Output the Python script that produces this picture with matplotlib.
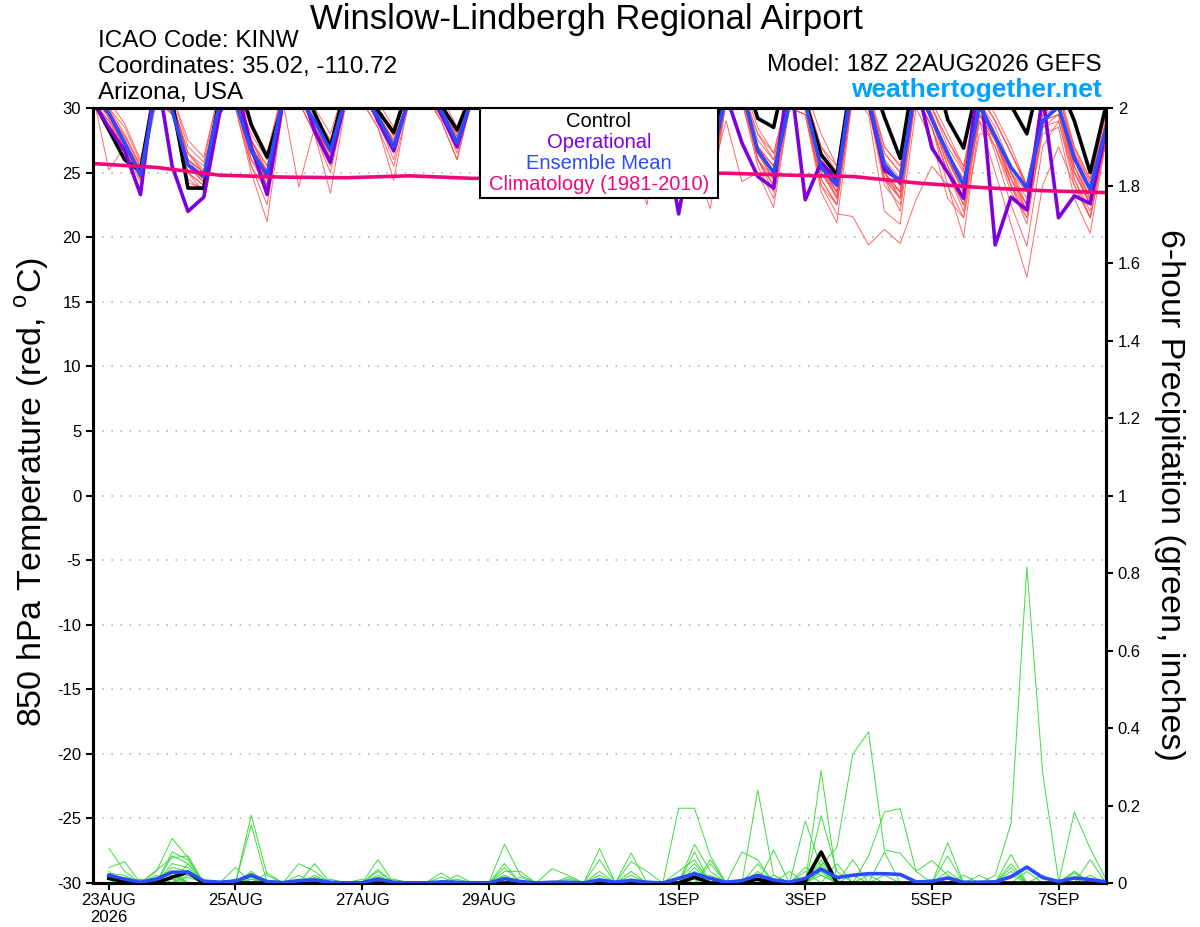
import numpy as np
import matplotlib.pyplot as plt
from matplotlib.patches import Rectangle

plt.rcParams['font.family'] = ['Liberation Sans', 'DejaVu Sans']
plt.rcParams['mathtext.fontset'] = 'custom'
plt.rcParams['mathtext.rm'] = 'Liberation Sans'
plt.rcParams['axes.unicode_minus'] = False

###################################################
# time axes: 6-hourly from 18Z 22AUG2026
start = np.datetime64('2026-08-22T18:00')
temp_times = start + np.arange(65) * np.timedelta64(6, 'h')
precip_times = temp_times[1:]
clim_times = start + np.arange(17) * np.timedelta64(24, 'h')

tick_dates = np.array(['2026-08-23', '2026-08-25', '2026-08-27', '2026-08-29',
                       '2026-09-01', '2026-09-03', '2026-09-05', '2026-09-07'],
                      dtype='datetime64[h]')
tick_labels = ['23AUG\n2026', '25AUG', '27AUG', '29AUG', '1SEP', '3SEP', '5SEP', '7SEP']

###################################################
# 850 hPa temperature (C)
control = [30.6,
           28.3, 26.0, 25.1, 32.2,  30.5, 23.8, 23.8, 30.9,  33.0, 28.7, 26.2, 30.3,
           33.0, 29.6, 27.0, 31.8,  33.0, 29.8, 28.1, 32.0,  33.0, 30.2, 28.3, 31.3,
           33.0, 29.5, 27.2, 32.0,  33.0, 29.8, 27.5, 32.0,  33.0, 29.2, 27.0, 32.0,
           33.0, 29.5, 27.2, 32.0,  33.0, 29.2, 28.5, 34.0,  30.5, 26.4, 24.8, 33.0,
           33.0, 29.3, 26.1, 33.5,  33.9, 29.1, 26.9, 32.4,  33.0, 30.2, 28.0, 33.3,
           32.0, 29.0, 25.0, 30.2]
operational = [30.5,
               28.5, 26.7, 23.3, 33.0,  25.5, 22.0, 23.1, 29.6,  32.0, 27.0, 23.3, 30.5,
               32.0, 28.2, 25.8, 31.0,  32.0, 29.0, 26.7, 31.0,  32.0, 29.5, 27.0, 31.0,
               32.0, 29.0, 26.0, 31.0,  32.0, 29.0, 26.0, 31.0,  32.0, 29.0, 25.5, 29.0,
               21.8, 28.5, 26.0, 31.0,  27.3, 24.7, 23.8, 33.0,  22.9, 25.8, 24.4, 32.0,
               30.5, 25.2, 24.4, 32.0,  26.9, 25.0, 23.0, 33.0,  19.4, 23.1, 22.1, 31.0,
               21.5, 23.2, 22.6, 28.3]
ens_mean = [30.8,
            29.6, 27.3, 24.8, 31.5,  29.8, 25.6, 24.7, 30.4,  30.5, 26.7, 24.8, 30.8,
            30.8, 29.0, 26.7, 31.0,  31.0, 29.3, 27.0, 30.8,  31.0, 29.8, 27.3, 31.0,
            31.0, 29.0, 26.5, 31.0,  31.0, 29.0, 26.5, 31.0,  31.0, 28.8, 26.0, 31.0,
            30.5, 28.0, 25.5, 31.0,  31.5, 26.7, 25.0, 30.3,  30.4, 25.4, 24.0, 32.5,
            30.6, 25.6, 24.2, 32.0,  29.1, 26.5, 24.0, 30.2,  27.8, 25.4, 23.8, 29.0,
            30.1, 26.1, 23.7, 28.4]
climatology = [25.7, 25.4, 24.8, 24.65, 24.6, 24.75, 24.55, 24.6, 24.7,
               24.9, 24.95, 24.8, 24.7, 24.2, 23.85, 23.6, 23.45]

temp_members = [
    [31, 29.8, 27.8, 25.5, 31.5, 30.5, 26.5, 25.2, 31, 31, 27.5, 25.5, 31, 31.5, 29.3, 27.2, 31.5,
     31.5, 29.8, 27.8, 31.5, 31.5, 30.2, 27.8, 31.5, 31.5, 29.5, 27.2, 31.5, 31.5, 29.5, 27, 31.5,
     31.5, 29, 26.5, 31.5, 31, 28.5, 26.5, 31.5, 31.5, 27.5, 26, 31, 31, 26.5, 25, 32,
     31, 26.5, 25, 32, 30, 27.5, 25.2, 31, 29, 26.5, 24, 30, 31, 26.5, 24.2, 29],
    [31, 29.2, 26.8, 24.5, 31, 30, 25, 24, 30.5, 30.5, 26, 23.8, 30.5, 31, 28.5, 26, 31,
     31, 29, 26.8, 31, 31.5, 29.5, 27, 31, 31, 28.5, 26, 31, 31, 28.5, 26, 31,
     31, 28, 25.5, 31, 30, 27, 25, 31, 31, 26, 24.5, 30.5, 30, 25, 23.5, 32,
     30.5, 25, 23.5, 31.5, 29, 26, 23.5, 30, 27.5, 25, 22.5, 29, 30, 25.5, 23, 28],
    [31.5, 30.5, 28.8, 26, 32, 31, 27.5, 26.2, 31.5, 31.5, 28.8, 26.5, 31.5, 32, 30, 28, 32,
     32, 30.5, 28.5, 32, 32, 31, 28.5, 32, 32, 30, 28, 32, 32, 30, 28, 32,
     31.5, 29.5, 27.5, 32, 31.5, 29, 27, 32, 32, 28.5, 26.5, 31.5, 31.5, 28, 25.5, 33,
     31.5, 27, 25.5, 33, 30.5, 28, 25.5, 31.5, 29.5, 27, 24, 30.5, 31.5, 27, 24.5, 29.5],
    [31, 25.2, 27, 25, 31, 30, 26, 24.5, 31, 31, 27, 24, 31, 31, 29, 26.5, 31,
     31, 29.5, 27, 31, 31, 29.5, 27.5, 31, 31, 29, 26.5, 31, 31, 29.5, 27, 31,
     31, 28.5, 26, 31, 30.5, 27.5, 25, 31, 31, 27, 25.5, 30.5, 30, 25.5, 24.5, 32,
     30.5, 26, 24, 32, 29.5, 26.5, 24.5, 30.5, 28, 25.5, 23.8, 29.5, 30, 26, 23.5, 28.5],
    [30.5, 29, 27, 24.8, 31, 29.5, 24.5, 23.6, 30, 30, 25, 21.2, 30, 30.5, 28, 25.5, 30.5,
     31, 29, 26, 31, 31, 29.5, 26.5, 31, 31, 28.5, 25.5, 31, 31, 28.5, 25.5, 31,
     31, 28, 25, 31, 30, 27, 24.5, 30.5, 31, 26.5, 24.5, 30.5, 30, 25.5, 23, 32,
     30.5, 25, 23.5, 32, 29.5, 26, 23.5, 30.5, 28, 25, 23, 29, 29.5, 26, 23, 28.5],
    [31, 29.5, 27.5, 25, 31.5, 30.5, 26, 25, 31, 31, 27, 25, 30.5, 23.9, 28.5, 26.5, 31,
     31, 29.5, 27, 31, 31, 30, 27.5, 31, 31, 29, 26.5, 31, 31, 29, 26.5, 31,
     31, 28.5, 26, 31, 30.5, 27.5, 25.5, 31, 31, 27, 25.5, 30.5, 30.5, 25.5, 24, 32,
     30.5, 25.5, 24, 32, 29, 26, 24, 30.5, 28, 25, 23.5, 29, 30, 26, 23.5, 28.5],
    [31, 29.5, 27, 24.5, 31, 30, 25.5, 24.5, 30.5, 30.5, 26, 24.5, 30.5, 30.5, 28, 23.4, 30.5,
     30.5, 28.5, 24.4, 31, 31, 29, 26, 31, 31, 28.5, 25.5, 31, 31, 28, 25, 31,
     31, 27.5, 24.5, 31, 30, 26.5, 24, 30.5, 30.5, 26, 24, 30.5, 30, 25, 23, 32,
     30, 24.5, 23, 31.5, 29, 25.5, 23, 30, 27.5, 24.5, 22.5, 29, 29.5, 25, 22.8, 28],
    [31.5, 30, 28.5, 25.8, 31.5, 31, 27, 25.8, 31.5, 31.5, 28.5, 26, 31.5, 31.5, 29.5, 27.5, 31.5,
     31.5, 30, 28, 31.5, 31.5, 30.5, 28.2, 31.5, 31.5, 29.5, 27.5, 31.5, 31.5, 29.5, 27.5, 31.5,
     31.5, 29, 27, 31.5, 31, 28.5, 26.5, 31.5, 31.5, 28, 26, 31, 31, 27, 25, 32.5,
     31, 26.5, 25, 32.5, 30, 27, 25, 31, 29, 26.5, 23.8, 30, 31, 26.8, 24.2, 29],
    [31, 29.5, 27.5, 25.2, 31, 30.5, 26, 25, 31, 31, 27, 25.2, 31, 31, 29, 27, 31,
     31, 29.5, 27.3, 31, 31, 29.8, 27.5, 31, 31, 29, 26.5, 31, 31, 28, 25.5, 31,
     30.5, 26.5, 22.5, 29.5, 27, 25.5, 22.2, 30.5, 31, 27, 25.5, 30.5, 30, 26, 24.5, 31.5,
     30.5, 26, 24.5, 31.5, 29.5, 26.5, 24.5, 30.5, 28, 25.5, 23.5, 29, 30, 26, 23.8, 28.5],
    [31, 29.5, 27, 24.8, 31, 30, 25.5, 24.3, 30.5, 30.5, 26.5, 24.5, 30.5, 31, 28.5, 26.5, 31,
     31, 29, 27, 31, 31, 29.5, 27, 31, 31, 29, 26.5, 31, 31, 28.5, 26, 31,
     31, 28, 25.5, 31, 30, 27, 24.5, 29, 24.3, 25, 22.3, 30, 30, 25.5, 23.5, 31.5,
     30, 25, 23, 31.5, 29, 26, 23.5, 30, 28, 24.5, 22.5, 29, 30, 25, 22.5, 28],
    [31, 29.5, 27.3, 24.6, 31, 30, 25, 24, 30.5, 30.5, 26.5, 24, 30.5, 31, 28.5, 26, 31,
     31, 29, 26.5, 31, 31, 29.5, 26.8, 31, 31, 28.5, 26, 31, 31, 28.5, 26, 31,
     31, 28, 25.5, 31, 30.5, 27, 25, 30.5, 31, 26, 23.5, 30, 29.5, 23.5, 21.1, 31,
     30.5, 24.5, 23, 31, 28.5, 24, 20, 29, 27, 24, 22, 29, 30, 25, 22.5, 28],
    [31, 29.5, 27.5, 25, 31, 30, 25.5, 24.5, 30.5, 30.5, 26.5, 25, 31, 31, 28.8, 26.8, 31,
     31, 29.2, 27.2, 31, 31, 29.5, 27.5, 31, 31, 29, 26.5, 31, 31, 28.5, 26, 31,
     31, 28, 25.5, 31, 30.5, 27.5, 25.5, 31, 31, 26.5, 24.5, 30.5, 30, 24, 21.8, 21.6,
     19.4, 20.6, 19.5, 22.9, 25.5, 24, 21.5, 28, 28, 25, 22, 29, 30, 25.5, 23, 28],
    [31, 29.8, 27.5, 25, 31, 30.5, 26, 25, 31, 31, 27.5, 25, 31, 31, 29, 27, 31,
     31, 29.5, 27.5, 31, 31, 30, 27.5, 31, 31, 29, 27, 31, 31, 29, 26.5, 31,
     31, 28.5, 26, 31, 30.5, 27.5, 25.5, 31, 31, 27, 25, 30.5, 30.5, 25.5, 23.5, 31,
     30, 24.5, 23.5, 31.5, 29.5, 26, 23.5, 29, 25, 21, 16.9, 24, 27, 24, 21.5, 27.5],
    [31, 29.5, 27, 24.8, 31, 30.5, 25.5, 24.6, 30.5, 31, 26.5, 24.5, 31, 31, 28.5, 26, 31,
     31, 29.3, 26.8, 31, 31, 29.5, 27, 31, 31, 28.5, 26, 31, 31, 28.5, 26, 31,
     31, 28, 25.5, 31, 30.5, 27, 25, 31, 31, 26, 24, 30.5, 30, 25, 23.2, 32,
     30, 24.5, 22, 31, 28.5, 25, 22.5, 29.5, 27.5, 24, 21.5, 28, 28.5, 23, 20.3, 27.5],
    [31, 29.8, 27.5, 25.3, 31, 30.5, 26.5, 25, 31, 31, 27.5, 25.5, 31, 31.5, 29, 27, 31,
     31.5, 29.5, 27.5, 31, 31.5, 30, 27.5, 31, 31, 29.5, 27, 31, 31, 29, 26.5, 31,
     31, 28.5, 26, 31, 30.5, 28, 26, 31, 31, 27, 25, 30.5, 30.5, 25.5, 23.5, 32,
     30.5, 25, 23.5, 31.5, 29, 25.5, 23, 30, 26.5, 22.5, 19.3, 27, 29, 24.5, 22, 28],
    [31, 29.5, 27.2, 24.5, 31, 30, 24.2, 23.8, 30, 30.5, 25.5, 23.5, 30.5, 31, 28.5, 26.5, 31,
     31, 29, 27, 31, 31, 29.5, 27, 31, 31, 28.5, 26, 31, 31, 28, 25.5, 31,
     30.5, 27.5, 24.8, 31, 30, 27, 24.5, 31, 31, 26.5, 24.5, 30, 29.5, 24, 22.5, 31,
     29.5, 22, 21, 30, 27.5, 23, 21.5, 29.5, 28, 24, 21, 28.5, 29.5, 24.5, 21.5, 27.5],
    [31, 30, 28, 25.5, 31, 30.5, 26.5, 25.5, 31, 31, 28, 26, 31.5, 31.5, 29.5, 27.5, 31.5,
     31.5, 30, 28, 31.5, 31.5, 30.5, 28, 31.5, 31.5, 29.5, 27.5, 31.5, 31.5, 29.5, 27, 31.5,
     31, 29, 26.5, 31.5, 31, 28.5, 26.5, 31.5, 31.5, 28, 26.5, 31, 31, 27, 25.5, 32.5,
     31, 27, 25.5, 32.5, 30, 27.5, 25.5, 31, 29, 26.5, 24, 30, 31, 27, 24.5, 29],
    [30.5, 29, 26.5, 24.3, 30.5, 29.5, 25, 23.5, 30, 30, 25.5, 22.5, 30, 30.5, 28, 25, 30.5,
     30.5, 28.5, 25.5, 30.5, 31, 29, 26, 31, 30.5, 28, 25, 31, 30.5, 27.5, 24.5, 31,
     30.5, 27, 24, 31, 30, 26, 23.5, 30.5, 30.5, 25.5, 23, 30, 29.5, 24.5, 22.5, 31,
     30, 24, 22.5, 31, 28.5, 25, 22, 29.5, 27, 23.5, 21.5, 28.5, 29, 24, 21.5, 27.5],
    [31, 29.5, 27.8, 25.5, 31.5, 30.5, 26, 25, 31, 31, 27.5, 25, 31, 31, 29, 27, 31,
     31, 29.5, 27.5, 31, 31, 30, 27.8, 31, 31, 29, 26.8, 31, 31, 29, 26.5, 31,
     31, 28.5, 26, 31, 30.5, 27.5, 25.5, 30.5, 31, 26.5, 25, 30.5, 30, 25.5, 24, 32,
     30.5, 25.5, 24, 31.5, 29.5, 26.5, 24.5, 30.5, 28.5, 25.5, 23.5, 29.5, 30.5, 26.5, 23.8, 28.5],
    [31, 29.3, 27, 24.8, 31, 30, 25.5, 24.2, 30.5, 30.5, 26.5, 24, 30.5, 31, 28.5, 26.2, 31,
     31, 29, 26.7, 31, 31, 29.3, 27, 31, 31, 28.5, 26, 31, 31, 28, 25.5, 31,
     31, 27.5, 24.5, 30.5, 30, 26.5, 24, 30.5, 31, 26, 24, 30.5, 30, 24.5, 22.5, 31.5,
     30, 25, 23, 31, 28.5, 25, 22.5, 29.5, 27.5, 24.5, 22, 29, 30, 25.5, 22.5, 28],
]

###################################################
# 6-hour precipitation (inches), only the non-zero steps (index from 00Z 23AUG)
precip_members = [
    {0: 0.09, 1: 0.03, 4: 0.07, 5: 0.05, 9: 0.175, 10: 0.02, 17: 0.035, 25: 0.1, 26: 0.02,
     31: 0.089, 33: 0.02, 37: 0.1, 38: 0.03, 45: 0.06, 53: 0.104, 57: 0.05, 61: 0.03},
    {0: 0.04, 1: 0.055, 3: 0.03, 4: 0.115, 5: 0.065, 9: 0.15, 13: 0.05, 21: 0.026, 25: 0.05,
     31: 0.06, 33: 0.077, 36: 0.193, 37: 0.193, 38: 0.07, 46: 0.05},
    {0: 0.03, 2: 0.01, 4: 0.08, 5: 0.06, 8: 0.04, 12: 0.05, 13: 0.03, 17: 0.06, 22: 0.02,
     28: 0.037, 29: 0.02, 41: 0.24, 42: 0.02, 47: 0.06, 49: 0.08, 61: 0.025},
    {0: 0.02, 3: 0.033, 4: 0.065, 5: 0.07, 9: 0.03, 17: 0.03, 25: 0.04, 33: 0.055, 34: 0.03,
     37: 0.08, 40: 0.08, 41: 0.06, 45: 0.29, 46: 0.005, 57: 0.074},
    {0: 0.025, 1: 0.02, 4: 0.05, 5: 0.04, 9: 0.02, 12: 0.02, 18: 0.01, 25: 0.03, 26: 0.03,
     36: 0.03, 37: 0.06, 42: 0.085, 44: 0.16, 45: 0.04, 53: 0.07, 62: 0.06},
    {1: 0.01, 4: 0.04, 5: 0.03, 14: 0.01, 37: 0.04, 43: 0.03, 45: 0.045, 46: 0.092, 47: 0.333,
     48: 0.39, 49: 0.085, 50: 0.077, 51: 0.03, 52: 0.058, 53: 0.02},
    {0: 0.015, 4: 0.03, 9: 0.025, 17: 0.02, 38: 0.05, 45: 0.174, 46: 0.03, 48: 0.07,
     49: 0.183, 50: 0.192, 51: 0.03, 55: 0.02},
    {0: 0.01, 5: 0.02, 25: 0.02, 37: 0.02, 45: 0.03, 56: 0.02, 57: 0.154, 58: 0.816,
     59: 0.284, 60: 0.007},
    {0: 0.02, 4: 0.03, 13: 0.02, 16: 0.01, 29: 0.015, 41: 0.05, 45: 0.04, 53: 0.03, 57: 0.03,
     61: 0.183, 62: 0.089, 63: 0.01},
    {1: 0.015, 3: 0.02, 5: 0.05, 9: 0.01, 21: 0.015, 31: 0.03, 36: 0.01, 37: 0.05, 44: 0.04,
     45: 0.02, 54: 0.02, 58: 0.03},
    {0: 0.015, 4: 0.02, 10: 0.026, 25: 0.015, 33: 0.03, 38: 0.06, 41: 0.03, 47: 0.02, 61: 0.03},
    {0: 0.01, 5: 0.03, 12: 0.01, 26: 0.015, 37: 0.03, 42: 0.02, 49: 0.02, 57: 0.02},
    {2: 0.01, 4: 0.02, 9: 0.015, 17: 0.015, 29: 0.01, 36: 0.01, 45: 0.05, 48: 0.02, 62: 0.02},
    {0: 0.02, 3: 0.015, 8: 0.01, 22: 0.01, 31: 0.02, 38: 0.02, 44: 0.03, 52: 0.01, 57: 0.04},
    {0: 0.012, 5: 0.015, 13: 0.015, 25: 0.02, 37: 0.015, 41: 0.02, 45: 0.03, 59: 0.02},
    {4: 0.01, 37: 0.01},
    {9: 0.01, 45: 0.02},
    {0: 0.008},
    {53: 0.015},
    {},
]
precip_control = {0: 0.012, 1: 0.004, 4: 0.015, 5: 0.028, 37: 0.015, 41: 0.01, 44: 0.005, 45: 0.08}
precip_mean = [0.02, 0.01, 0.002, 0.01, 0.028, 0.028, 0.005, 0.002, 0.005, 0.02, 0.004, 0.001,
               0.006, 0.008, 0.002, 0.0, 0.001, 0.01, 0.002, 0.0, 0.0, 0.003, 0.002, 0.0,
               0.0, 0.011, 0.004, 0.0, 0.002, 0.002, 0.0, 0.008, 0.002, 0.007, 0.002, 0.0,
               0.012, 0.024, 0.012, 0.002, 0.006, 0.02, 0.008, 0.002, 0.012, 0.036, 0.014, 0.02,
               0.024, 0.024, 0.022, 0.003, 0.004, 0.013, 0.002, 0.002, 0.003, 0.016, 0.041, 0.014,
               0.004, 0.013, 0.009, 0.003]

###################################################
red = '#ff4d4d'
green = '#3ddc3d'
purple = '#7f00dd'
blue = '#2a4bff'
magenta = '#f0087a'

fig = plt.figure(figsize=(12, 9.27), dpi=100)
ax = fig.add_axes([93/1200, 1 - 883/927, 1013/1200, 775/927])

for m in temp_members:
    ax.plot(temp_times, m, color=red, lw=0.7, alpha=0.85, zorder=2)
ax.plot(temp_times, control, color='black', lw=2.6, zorder=3)
ax.plot(temp_times, operational, color=purple, lw=2.6, zorder=4)
ax.plot(temp_times, ens_mean, color=blue, lw=2.6, zorder=5)
ax.plot(clim_times, climatology, color=magenta, lw=2.6, zorder=6)

ax.set_ylim(-30, 30)
ax.set_yticks(np.arange(-30, 31, 5))
ax.set_xlim(temp_times[0], temp_times[-1])
ax.set_xticks(tick_dates)
ax.set_xticklabels(tick_labels)
ax.grid(axis='y', color='#aaaaaa', linestyle=(0, (1, 5)), lw=1.1)
ax.set_axisbelow(True)
ax.tick_params(axis='both', labelsize=12, length=5, width=1.5, direction='out')
ax.tick_params(axis='x', pad=2)

# precipitation on the right axis
ax2 = ax.twinx()
for d in precip_members:
    p = np.zeros(64)
    for j, v in d.items():
        p[j] = v
    ax2.plot(precip_times, p, color=green, lw=0.7, zorder=2)
pc = np.zeros(64)
for j, v in precip_control.items():
    pc[j] = v
ax2.plot(precip_times, pc, color='black', lw=2.6, zorder=3)
ax2.plot(precip_times, precip_mean, color=blue, lw=2.6, zorder=4)
ax2.set_ylim(0, 2)
ax2.set_yticks(np.arange(0, 2.01, 0.2))
ax2.set_yticklabels(['0', '0.2', '0.4', '0.6', '0.8', '1', '1.2', '1.4', '1.6', '1.8', '2'])
ax2.tick_params(axis='y', labelsize=12, length=5, width=1.5, direction='out')

for a in (ax, ax2):
    for s in a.spines.values():
        s.set_linewidth(2.2)

# legend box at top centre
ax2.add_patch(Rectangle((0.382, 0.884), 0.235, 0.116, transform=ax2.transAxes,
                        facecolor='white', edgecolor='black', lw=1.5, zorder=10))
leg_names = ['Control', 'Operational', 'Ensemble Mean', 'Climatology (1981-2010)']
leg_colors = ['black', purple, blue, magenta]
leg_y = [0.983, 0.956, 0.929, 0.901]
for name, c, yy in zip(leg_names, leg_colors, leg_y):
    ax2.text(0.4995, yy, name, color=c, fontsize=14.5, ha='center', va='center',
             transform=ax2.transAxes, zorder=11)

# titles and labels
fig.text(586/1200, 1 - 29/927, 'Winslow-Lindbergh Regional Airport', fontsize=25,
         ha='center', va='baseline')
fig.text(98/1200, 1 - 47/927, 'ICAO Code: KINW', fontsize=17.5, va='baseline')
fig.text(98/1200, 1 - 73/927, 'Coordinates: 35.02, -110.72', fontsize=17.5, va='baseline')
fig.text(98/1200, 1 - 99/927, 'Arizona, USA', fontsize=17.5, va='baseline')
fig.text(1102/1200, 1 - 71/927, 'Model: 18Z 22AUG2026 GEFS', fontsize=17.5,
         ha='right', va='baseline')
fig.text(1102/1200, 1 - 97/927, 'weathertogether.net', fontsize=19, fontweight='bold',
         color='#00a0ff', ha='right', va='baseline')
fig.text(32/1200, 1 - 492/927, r'850 hPa Temperature (red, $^{\rm o}$C)', fontsize=24.5,
         rotation=90, ha='center', va='center')
fig.text(1170/1200, 1 - 495/927, '6-hour Precipitation (green, inches)', fontsize=24.5,
         rotation=270, ha='center', va='center')

fig.savefig('out.png', dpi=100)
